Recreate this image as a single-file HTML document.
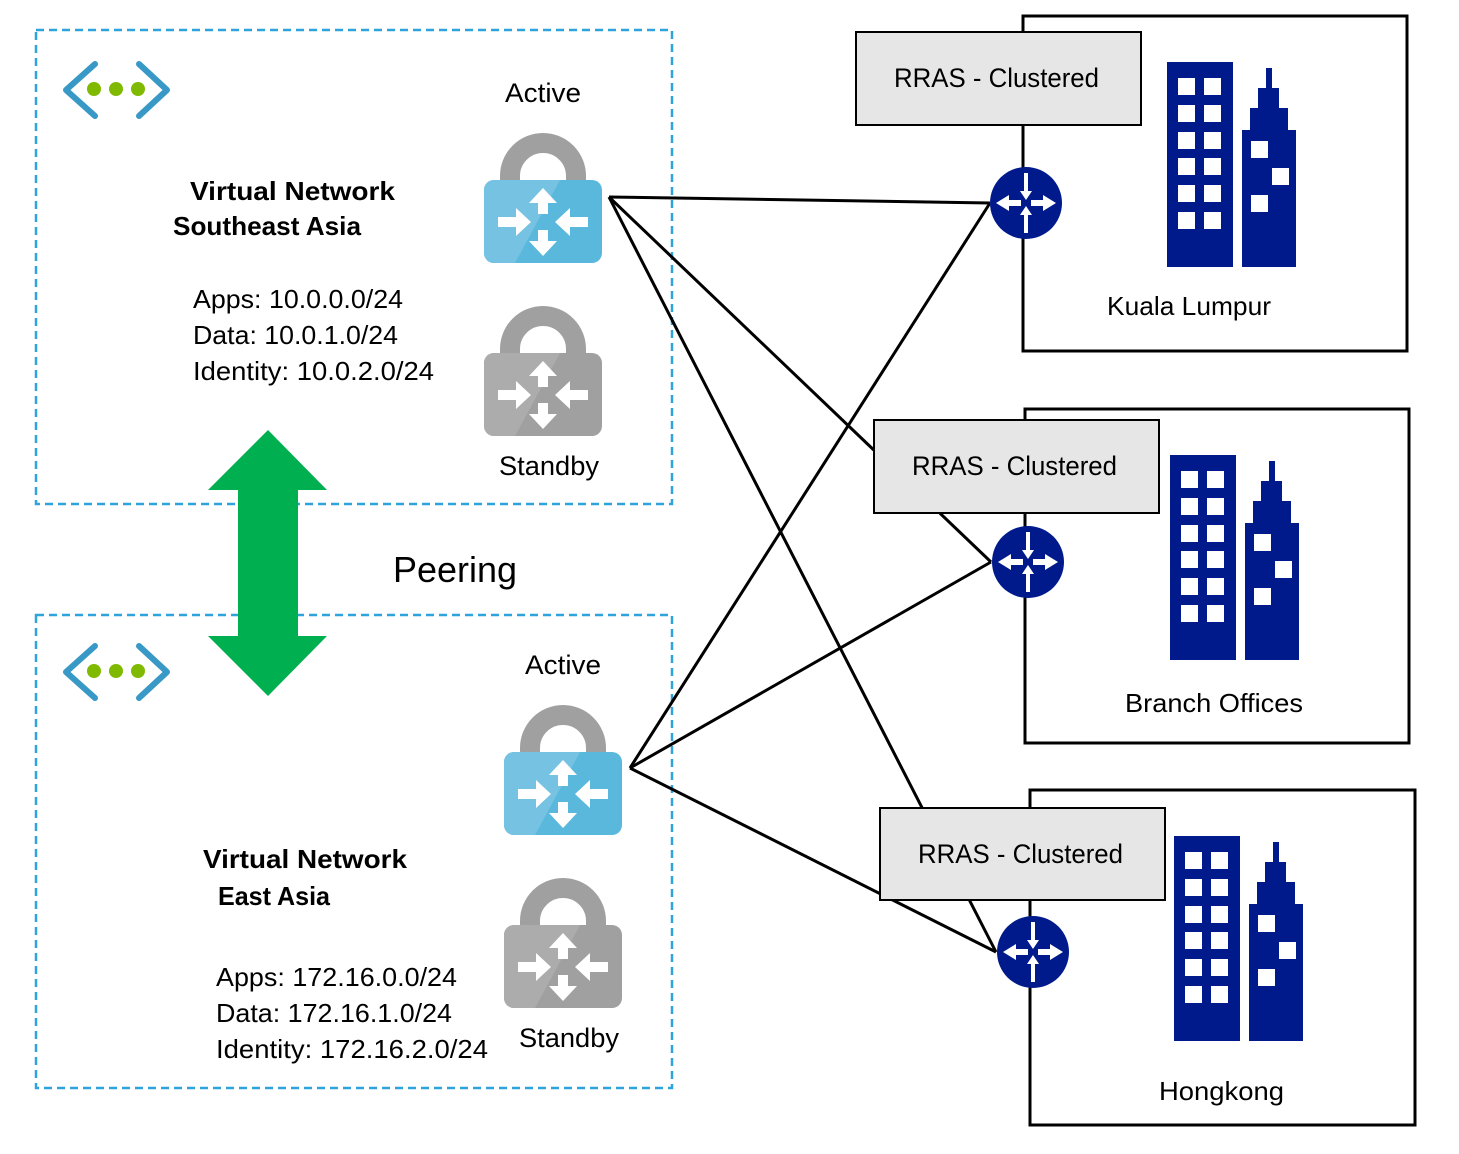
<!DOCTYPE html>
<html><head><meta charset="utf-8"><style>
html,body{margin:0;padding:0;background:#fff}
svg{display:block}
text{font-family:"Liberation Sans",sans-serif;fill:#000}
</style></head><body>
<svg width="1459" height="1154" viewBox="0 0 1459 1154" xmlns="http://www.w3.org/2000/svg">
<defs>
<g id="lockb">
  <path d="M510 184 V176 A33 33 0 0 1 576 176 V184" fill="none" stroke="#a0a0a0" stroke-width="20"/>
  <rect x="484" y="180" width="118" height="83" rx="10" fill="#5bb8dd"/>
  <path d="M494 180 H560 L515 263 H494 A10 10 0 0 1 484 253 V190 A10 10 0 0 1 494 180Z" fill="#75c2e3"/>
  <g fill="#fff">
    <path d="M543 188 L557 203 H548 V214 H538 V203 H529Z"/>
    <path d="M543 256 L557 241 H548 V230 H538 V241 H529Z"/>
    <path d="M531 222 L516 208 V217 H498 V227 H516 V236Z"/>
    <path d="M555 222 L570 208 V217 H588 V227 H570 V236Z"/>
  </g>
</g>
<g id="lockg">
  <path d="M510 184 V176 A33 33 0 0 1 576 176 V184" fill="none" stroke="#a0a0a0" stroke-width="20"/>
  <rect x="484" y="180" width="118" height="83" rx="10" fill="#a0a0a0"/>
  <path d="M494 180 H560 L515 263 H494 A10 10 0 0 1 484 253 V190 A10 10 0 0 1 494 180Z" fill="#acacac"/>
  <g fill="#fff">
    <path d="M543 188 L557 203 H548 V214 H538 V203 H529Z"/>
    <path d="M543 256 L557 241 H548 V230 H538 V241 H529Z"/>
    <path d="M531 222 L516 208 V217 H498 V227 H516 V236Z"/>
    <path d="M555 222 L570 208 V217 H588 V227 H570 V236Z"/>
  </g>
</g>
<g id="bldg" fill="#001a8c">
  <rect x="1167" y="62" width="66" height="205"/>
  <path d="M1242 267 V130 H1250 V108 H1258 V88 H1266 V68 H1272 V88 H1279 V108 H1288 V130 H1296 V267Z"/>
  <g fill="#fff">
    <rect x="1178" y="78" width="17" height="17"/><rect x="1204" y="78" width="17" height="17"/>
    <rect x="1178" y="105" width="17" height="17"/><rect x="1204" y="105" width="17" height="17"/>
    <rect x="1178" y="132" width="17" height="17"/><rect x="1204" y="132" width="17" height="17"/>
    <rect x="1178" y="158" width="17" height="17"/><rect x="1204" y="158" width="17" height="17"/>
    <rect x="1178" y="185" width="17" height="17"/><rect x="1204" y="185" width="17" height="17"/>
    <rect x="1178" y="212" width="17" height="17"/><rect x="1204" y="212" width="17" height="17"/>
    <rect x="1251" y="141" width="17" height="17"/><rect x="1272" y="168" width="17" height="17"/>
    <rect x="1251" y="195" width="17" height="17"/>
  </g>
</g>
<g id="router">
  <circle cx="0" cy="0" r="36" fill="#001a8c"/>
  <g fill="#fff">
    <path d="M-30 0 L-17 -8 V-3 H-5 V3 H-17 V8Z"/>
    <path d="M30 0 L17 -8 V-3 H5 V3 H17 V8Z"/>
    <path d="M0 -3 L-6 -12 H-2 V-30 H2 V-12 H6Z"/>
    <path d="M0 3 L-6 12 H-2 V30 H2 V12 H6Z"/>
  </g>
</g>
<g id="vnet">
  <path d="M95 64 L66 90 L95 116" fill="none" stroke="#3999c6" stroke-width="6" stroke-linecap="round" stroke-linejoin="round"/>
  <path d="M139 64 L167 90 L139 116" fill="none" stroke="#3999c6" stroke-width="6" stroke-linecap="round" stroke-linejoin="round"/>
  <circle cx="94" cy="89" r="7" fill="#7fba00"/>
  <circle cx="116" cy="89" r="7" fill="#7fba00"/>
  <circle cx="138" cy="89" r="7" fill="#7fba00"/>
</g>
</defs>

<rect x="36" y="30" width="636" height="474" fill="none" stroke="#2ea3dc" stroke-width="2.5" stroke-dasharray="8,5"/>
<rect x="36" y="615" width="636" height="473" fill="none" stroke="#2ea3dc" stroke-width="2.5" stroke-dasharray="8,5"/>

<use href="#vnet"/>
<use href="#vnet" transform="translate(0,582)"/>

<rect x="1023" y="16" width="384" height="335" fill="#fff" stroke="#000" stroke-width="3"/>
<rect x="1025" y="409" width="384" height="334" fill="#fff" stroke="#000" stroke-width="3"/>
<rect x="1030" y="790" width="385" height="335" fill="#fff" stroke="#000" stroke-width="3"/>

<use href="#bldg"/>
<use href="#bldg" transform="translate(3,393)"/>
<use href="#bldg" transform="translate(7,774)"/>

<g stroke="#000" stroke-width="3" fill="none">
  <line x1="609" y1="197" x2="990" y2="203"/>
  <line x1="609" y1="197" x2="991" y2="562"/>
  <line x1="609" y1="197" x2="996" y2="952"/>
  <line x1="630" y1="768" x2="990" y2="203"/>
  <line x1="630" y1="768" x2="991" y2="562"/>
  <line x1="630" y1="768" x2="996" y2="952"/>
</g>

<rect x="856" y="32" width="285" height="93" fill="#e6e6e6" stroke="#000" stroke-width="2"/>
<rect x="874" y="420" width="285" height="93" fill="#e6e6e6" stroke="#000" stroke-width="2"/>
<rect x="880" y="808" width="285" height="92" fill="#e6e6e6" stroke="#000" stroke-width="2"/>
<text x="894" y="87" font-size="27" textLength="205" lengthAdjust="spacingAndGlyphs">RRAS - Clustered</text>
<text x="912" y="475" font-size="27" textLength="205" lengthAdjust="spacingAndGlyphs">RRAS - Clustered</text>
<text x="918" y="863" font-size="27" textLength="205" lengthAdjust="spacingAndGlyphs">RRAS - Clustered</text>

<use href="#router" transform="translate(1026,203)"/>
<use href="#router" transform="translate(1028,562)"/>
<use href="#router" transform="translate(1033,952)"/>

<use href="#lockb"/>
<use href="#lockg" transform="translate(0,173)"/>
<use href="#lockb" transform="translate(20,572)"/>
<use href="#lockg" transform="translate(20,745)"/>

<path d="M268 430 L327 490 H298 V636 H327 L268 696 L208 636 H238 V490 H208Z" fill="#00b050"/>

<text x="505" y="102" font-size="27" textLength="76" lengthAdjust="spacingAndGlyphs">Active</text>
<text x="499" y="475" font-size="27" textLength="100" lengthAdjust="spacingAndGlyphs">Standby</text>
<text x="525" y="674" font-size="27" textLength="76" lengthAdjust="spacingAndGlyphs">Active</text>
<text x="519" y="1047" font-size="27" textLength="100" lengthAdjust="spacingAndGlyphs">Standby</text>

<text x="190" y="200" font-size="26" font-weight="bold" textLength="205" lengthAdjust="spacingAndGlyphs">Virtual Network</text>
<text x="173" y="235" font-size="26" font-weight="bold" textLength="188" lengthAdjust="spacingAndGlyphs">Southeast Asia</text>
<text x="193" y="308" font-size="26" textLength="210" lengthAdjust="spacingAndGlyphs">Apps: 10.0.0.0/24</text>
<text x="193" y="344" font-size="26" textLength="205" lengthAdjust="spacingAndGlyphs">Data: 10.0.1.0/24</text>
<text x="193" y="380" font-size="26" textLength="241" lengthAdjust="spacingAndGlyphs">Identity: 10.0.2.0/24</text>

<text x="203" y="868" font-size="26" font-weight="bold" textLength="204" lengthAdjust="spacingAndGlyphs">Virtual Network</text>
<text x="218" y="905" font-size="26" font-weight="bold" textLength="112" lengthAdjust="spacingAndGlyphs">East Asia</text>
<text x="216" y="986" font-size="26" textLength="241" lengthAdjust="spacingAndGlyphs">Apps: 172.16.0.0/24</text>
<text x="216" y="1022" font-size="26" textLength="236" lengthAdjust="spacingAndGlyphs">Data: 172.16.1.0/24</text>
<text x="216" y="1058" font-size="26" textLength="272" lengthAdjust="spacingAndGlyphs">Identity: 172.16.2.0/24</text>

<text x="393" y="582" font-size="36" textLength="124" lengthAdjust="spacingAndGlyphs">Peering</text>

<text x="1107" y="315" font-size="26" textLength="164" lengthAdjust="spacingAndGlyphs">Kuala Lumpur</text>
<text x="1125" y="712" font-size="26" textLength="178" lengthAdjust="spacingAndGlyphs">Branch Offices</text>
<text x="1159" y="1100" font-size="26" textLength="125" lengthAdjust="spacingAndGlyphs">Hongkong</text>
</svg>
</body></html>
